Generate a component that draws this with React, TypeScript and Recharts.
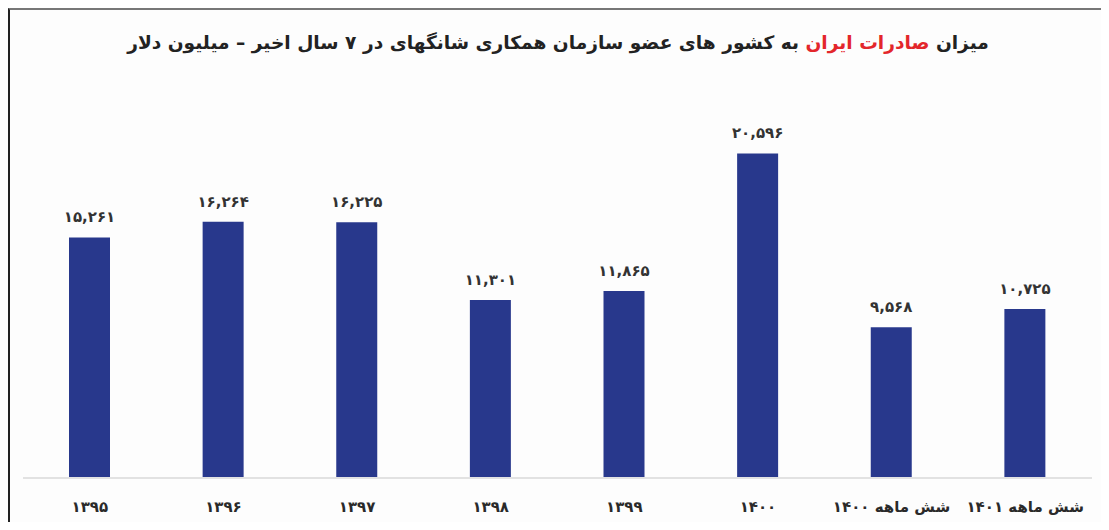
import React from "react";
import { BarChart, Bar, XAxis, YAxis, LabelList } from "recharts";

// سال‌ها و صادرات (میلیون دلار)
const categories = [
  "۱۳۹۵",
  "۱۳۹۶",
  "۱۳۹۷",
  "۱۳۹۸",
  "۱۳۹۹",
  "۱۴۰۰",
  "شش ماهه ۱۴۰۰",
  "شش ماهه ۱۴۰۱",
];
const exportsValues = [15261, 16264, 16225, 11301, 11865, 20596, 9568, 10725];

const data = categories.map((name, i) => ({ name, value: exportsValues[i] }));

const FONT = "'DejaVu Sans', sans-serif";
const BAR_COLOR = "#28388c";

const faDigits = "۰۱۲۳۴۵۶۷۸۹";
const toFa = (v: number | string) =>
  String(v).replace(/[0-9]/g, (d) => faDigits[Number(d)]);
const formatValue = (v: unknown) => toFa(Number(v).toLocaleString("en-US"));

const CategoryTick = ({
  x,
  y,
  payload,
}: {
  x?: number;
  y?: number;
  payload?: { value: string };
}) => (
  <text
    x={x}
    y={y}
    dy={34}
    textAnchor="middle"
    fontFamily={FONT}
    fontSize={15}
    fontWeight="bold"
    fill="#2a2a2a"
  >
    {payload?.value}
  </text>
);

export default function App() {
  return (
    <div
      style={{
        position: "relative",
        width: 1096,
        height: 512,
        borderTop: "2px solid #777",
        borderLeft: "2px solid #222",
        borderRight: "2px solid #222",
        background: "#fdfdfd",
        fontFamily: FONT,
      }}
    >
      <div
        style={{
          position: "absolute",
          top: 22,
          left: 0,
          width: "100%",
          textAlign: "center",
          direction: "rtl",
          fontSize: 18.6,
          fontWeight: "bold",
          color: "#222",
        }}
      >
        میزان <span style={{ color: "#e3262b" }}>صادرات ایران</span> به کشور
        های عضو سازمان همکاری شانگهای در ۷ سال اخیر – میلیون دلار
      </div>
      <BarChart
        width={1096}
        height={512}
        data={data}
        margin={{ top: 74, right: 14, left: 13, bottom: 0 }}
      >
        <XAxis
          dataKey="name"
          height={44}
          tickSize={0}
          tickMargin={0}
          axisLine={{ stroke: "#e2e2e2", strokeWidth: 2 }}
          tickLine={false}
          interval={0}
          tick={<CategoryTick />}
        />
        <YAxis hide domain={[0, 25000]} />
        <Bar
          dataKey="value"
          fill={BAR_COLOR}
          barSize={41}
          isAnimationActive={false}
        >
          <LabelList
            dataKey="value"
            position="top"
            offset={15}
            formatter={formatValue}
            style={{
              fontFamily: FONT,
              fontSize: 15,
              fontWeight: "bold",
              fill: "#333",
            }}
          />
        </Bar>
      </BarChart>
    </div>
  );
}
